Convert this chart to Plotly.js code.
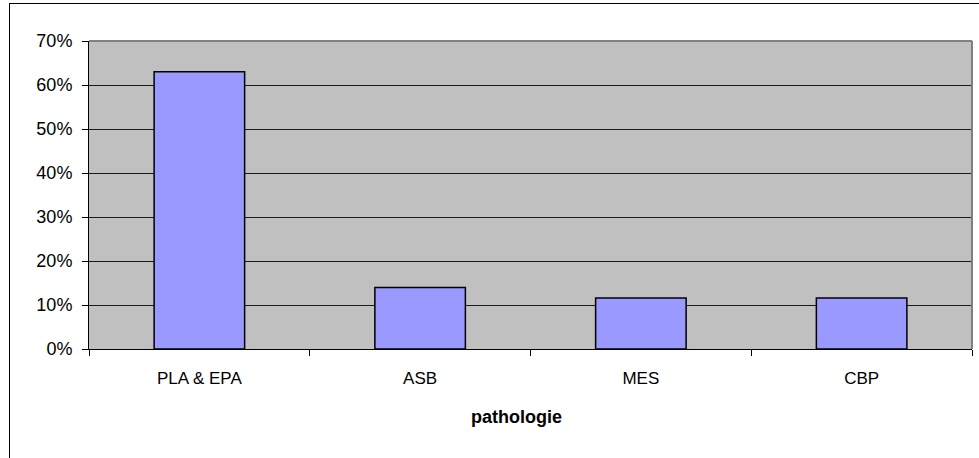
<!DOCTYPE html>
<html>
<head>
<meta charset="utf-8">
<script src="https://cdn.plot.ly/plotly-3.0.1.min.js"></script>
<style>
html,body{margin:0;padding:0;background:#fff;}
#chart{position:absolute;left:0;top:0;width:979px;height:458px;}
#frame{position:absolute;left:9px;top:3px;width:990px;height:470px;border-left:1px solid #000;border-top:1px solid #000;pointer-events:none;}
</style>
</head>
<body>
<div id="chart"></div>
<div id="frame"></div>
<script>
const categories = ["PLA & EPA", "ASB", "MES", "CBP"];
const values = [0.63, 0.14, 0.116, 0.116];
const yTickVals = [0, 0.1, 0.2, 0.3, 0.4, 0.5, 0.6, 0.7];
const yTickText = ["0%", "10%", "20%", "30%", "40%", "50%", "60%", "70%"];
const xTitle = "pathologie";

const trace = {
  type: 'bar',
  x: categories,
  y: values,
  width: 0.41,
  marker: {color: '#9999FF', line: {color: '#000000', width: 1.5}},
  hoverinfo: 'none'
};

const layout = {
  width: 979, height: 458,
  margin: {l: 89, r: 7, t: 41, b: 109, pad: 0},
  paper_bgcolor: '#ffffff',
  plot_bgcolor: '#C0C0C0',
  showlegend: false,
  font: {family: 'Liberation Sans, Arial, sans-serif', size: 18, color: '#000'},
  bargap: 0.59,
  xaxis: {
    type: 'category',
    tickson: 'boundaries',
    ticks: 'outside', ticklen: 6, tickcolor: '#000', tickwidth: 1,
    showline: true, linecolor: '#000', linewidth: 1,
    showgrid: false, zeroline: false,
    automargin: false,
    tickfont: {size: 17},
    ticklabelstandoff: 14
  },
  yaxis: {
    range: [0, 0.7],
    tickvals: yTickVals, ticktext: yTickText,
    ticks: 'outside', ticklen: 6, tickcolor: '#000', tickwidth: 1,
    showline: true, linecolor: '#000', linewidth: 1,
    showgrid: true, gridcolor: '#1a1a1a', gridwidth: 1,
    zeroline: false,
    automargin: false,
    ticklabelstandoff: 6,
    tickfont: {size: 18}
  },
  annotations: [
    {text: '<b>' + xTitle + '</b>', xref: 'paper', yref: 'paper', x: 0.4836, y: -0.222,
     xanchor: 'center', yanchor: 'middle', showarrow: false, font: {size: 18, color: '#000'}}
  ],
  shapes: [
    {type: 'line', xref: 'paper', yref: 'paper', x0: 0, x1: 1, y0: 1, y1: 1, line: {color: '#808080', width: 2}},
    {type: 'line', xref: 'paper', yref: 'paper', x0: 1, x1: 1, y0: 0, y1: 1, line: {color: '#808080', width: 2}}
  ]
};

Plotly.newPlot('chart', [trace], layout, {staticPlot: true, displayModeBar: false});
</script>
</body>
</html>
